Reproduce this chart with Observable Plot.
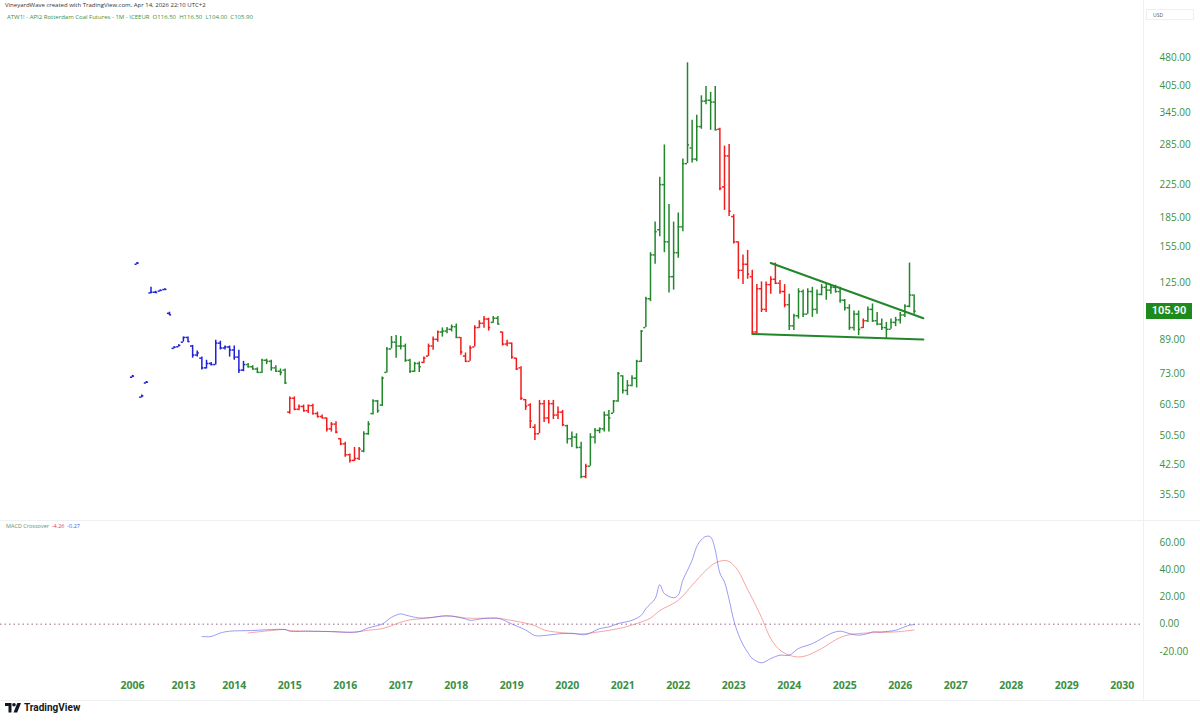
<!DOCTYPE html>
<html><head><meta charset="utf-8">
<script src="https://cdn.jsdelivr.net/npm/d3@7"></script>
<script src="https://cdn.jsdelivr.net/npm/@observablehq/plot@0.6"></script>
<style>
html,body{margin:0;padding:0;background:#fff}
body{width:1200px;height:723px;position:relative;overflow:hidden;font-family:"Open Sans",Roboto,sans-serif}
.abs{position:absolute}
#hdr1{left:5px;top:1px;font-size:6px;color:#333;white-space:nowrap}
#hdr2{left:7px;top:13px;font-size:6px;color:#3b8f41;white-space:nowrap}
#usd{left:1146px;top:9px;width:48px;height:11px;border:1px solid #eceff3;font-size:5px;color:#555;box-sizing:border-box;padding:2px 0 0 6px}
#macdHdr{left:6px;top:522px;font-size:5.5px;color:#6a8f6a;white-space:nowrap}
#last{left:1146px;width:46px;height:16px;background:#1e8a1e;color:#fff;font-size:11px;font-weight:600;line-height:16px;text-align:center;font-family:Roboto,sans-serif}
.vline{width:1px;background:#eef0f3}
.hline{height:1px;background:#eef0f3}
#logo{left:5px;top:702px;font-size:10px;font-weight:700;color:#131722;display:flex;align-items:center;gap:3px;font-family:Roboto,sans-serif}
</style></head>
<body>
<div id="hdr1" class="abs">VineyardWave created with TradingView.com, Apr 14, 2026 22:10 UTC+2</div>
<div id="hdr2" class="abs">ATW1! - API2 Rotterdam Coal Futures - 1M - ICEEUR&nbsp; O116.50&nbsp; H116.50&nbsp; L104.00&nbsp; C105.90</div>
<div id="price" class="abs" style="left:0;top:0"></div>
<div id="macd" class="abs" style="left:0;top:520px"></div>
<div class="abs hline" style="left:0;top:520px;width:1200px"></div>
<div class="abs vline" style="left:1143px;top:0;height:700px"></div>
<div class="abs hline" style="left:0;top:700px;width:1200px"></div>
<div id="usd" class="abs">USD</div>
<div id="macdHdr" class="abs">MACD Crossover&nbsp; <span style="color:#f23645">-4.26</span>&nbsp; <span style="color:#2962ff">-0.27</span></div>
<div id="logo" class="abs"><svg width="16" height="10" viewBox="0 0 16 10"><path d="M0 0h6.5v9.5H3.5V3H0z" fill="#131722"/><circle cx="9" cy="1.8" r="1.8" fill="#131722"/><path d="M8.5 9.5L12.3 0H16l-3.8 9.5z" fill="#131722"/></svg><span>TradingView</span></div>
<script>
// ---------- DATA ----------
// early sparse bars (before continuous monthly history)
const earlyMonths = ["2006-06","2008-03","2009-02","2009-08","2010-12","2011-03","2011-06","2011-09","2012-04","2012-10","2012-12"];
// continuous monthly bars Feb 2013 .. Apr 2026 are appended in order
const open = [
 71.4,140.0,63.4,69.0,118.0,118.5,119.3,120.4,104.5,84.8,85.6,
 88.0,90.5,86.0,81.5,80.0,75.5,77.5,77.0,87.5,85.0,85.5,
 84.0,80.5,74.5,77.0,76.0,75.0,73.5,79.0,78.5,75.5,74.0,74.5,
 58.0,63.0,59.0,60.0,58.5,60.3,57.5,56.5,56.0,52.5,54.0,49.5,
 48.0,45.0,43.5,44.0,46.0,51.0,57.5,62.0,60.5,73.5,84.5,88.0,
 86.0,86.0,79.0,74.0,77.5,78.0,81.0,86.0,89.5,93.5,94.0,95.0,
 96.5,90.5,81.0,78.5,85.5,96.0,98.5,101.0,99.0,101.5,93.5,87.0,
 87.5,80.0,75.5,62.5,60.5,53.0,51.0,61.0,56.0,61.0,57.0,58.0,
 53.5,49.5,50.0,47.0,39.5,42.0,50.0,52.0,52.5,57.0,57.6,62.0,
 72.0,66.0,68.0,71.0,78.5,96.0,114,148,172,225,160,130,
 150,175,255,280,262,318,370,372,368,313,222,267,
 186,160,135,140,130,93.5,121,107,124,128,125,119,
 110,97,103,119,104,119,107,117,122,120,122,119,
 113,108,96,104,96,100,107,100,98,96,95,99,
 100.5,103.5,109,116.5];
const high = [
 72.2,141.5,64.2,69.6,122.0,119.2,120.0,121.0,105.2,85.6,86.6,
 90.7,90.7,86.3,83.5,80.5,79.0,78.0,89.0,88.5,86.0,86.0,
 86.0,83.8,78.5,77.5,76.5,75.5,79.5,79.5,79.0,76.5,75.0,75.0,
 63.5,63.5,60.5,60.5,60.5,60.8,58.0,57.0,56.0,54.5,54.8,49.5,
 48.5,45.2,47.0,47.0,51.6,54.8,62.4,62.2,71.5,85.3,91.0,91.5,
 91.0,87.0,79.5,78.0,78.2,80.5,87.0,90.7,94.0,95.8,96.0,97.5,
 98.0,90.5,82.5,86.0,97.0,100.0,102.5,101.5,102.5,102.5,93.5,89.0,
 87.5,80.0,76.0,62.5,61.0,53.8,62.2,62.2,62.2,62.2,59.8,58.6,
 53.6,51.5,51.0,48.5,42.5,51.0,52.6,52.8,58.0,58.6,62.2,73.4,
 72.0,70.0,72.0,79.0,94.4,115.0,150,180,235,285,200,180,
 190,262,465,330,340,382,404,390,404,315,283,286,
 188,160,148,152,135,124,126,126,130,141,127,124,
 117,104,121,120,121,122,120,124,124,123.5,123.5,122,
 113.5,110,106,106,101,108.5,110.5,105,101,99,101,102,
 105,110,141,116.5];
const low = [
 71.2,139.8,63.2,68.8,117.5,117.8,119.0,120.0,103.2,84.6,85.5,
 88.0,88.0,80.0,80.5,74.5,75.0,76.5,76.8,84.0,84.0,80.5,
 79.0,73.0,73.8,75.5,74.5,73.0,73.0,77.0,74.0,73.5,72.0,68.5,
 57.3,58.5,58.5,58.0,57.5,57.0,56.0,55.8,51.5,51.5,51.0,47.5,
 44.3,42.8,43.2,43.5,45.5,50.5,57.0,57.6,60.0,73.2,84.5,80.0,
 84.0,78.0,73.0,73.5,73.5,77.5,80.8,83.8,88.0,90.7,92.5,93.5,
 90.0,81.4,78.0,78.5,85.5,95.6,95.6,94.0,98.5,97.6,86.0,85.6,
 79.5,74.4,62.2,58.6,52.6,49.0,51.0,54.5,54.0,55.5,55.5,53.2,
 48.0,47.0,46.6,39.0,39.0,42.0,48.0,51.0,51.5,51.5,57.6,61.5,
 64.6,64.0,67.5,67.0,78.0,96.0,112,140,165,150,118,120,
 145,170,255,256,258,313,362,311,310,217,193,186,
 158,128,124,128,92.5,92.5,105,105,117,124,117,108,
 94.4,94.4,101,102,104,102,104,116,113,117,118,111,
 106,94.4,94,91.5,95.5,99,99,97,94.4,89.8,95,96.5,
 98,102,108,104];
const close = [
 71.9,141.0,63.9,69.3,118.5,118.3,119.8,120.5,103.6,85.4,86.3,
 90.5,88.3,81.5,82.5,75.5,77.5,77.0,87.5,85.0,85.5,84.0,
 80.5,74.5,77.0,76.0,75.0,73.5,79.0,78.5,75.5,74.0,73.5,69.0,
 63.0,59.0,60.0,58.5,60.3,57.5,56.5,56.0,52.5,54.0,51.5,48.0,
 45.0,43.5,44.0,46.5,51.0,54.0,62.0,58.5,71.0,84.5,88.0,86.0,
 86.0,79.0,74.0,77.5,76.0,80.0,86.0,89.5,93.5,94.0,95.0,96.5,
 90.5,83.0,78.5,85.0,96.0,98.5,101.0,96.0,101.5,98.0,87.0,87.5,
 80.5,75.0,63.0,60.0,55.0,51.0,61.0,56.0,61.0,57.0,58.0,53.8,
 49.5,50.0,47.0,39.5,42.0,50.0,52.0,52.5,57.0,56.0,62.0,73.0,
 66.0,68.0,71.0,78.5,94.0,114.0,148,170,225,160,130,150,
 175,255,285,262,318,370,372,368,312,220,267,192,
 160,135,140,132,93.5,121,107,124,128,125,119,110,
 97,103,119,104,119,107,117,122,120,122,119,113,
 108,96,104,95,100,107,100,98,96,95,99,100.5,
 103.5,109,116.5,105.9];
// bar colouring state: b = early, g = up-trend, r = down-trend
const barState = ("bbbbbbbbbbbbbbbbbbbbbbbbb" + "ggggggggg" + "rrrrrrrrrrrrrrrr" + "ggggggggggggg" +
  "rrrr" + "gggg" + "rrrrrrr" + "gg" + "rrrrrrrrrrrrrr" + "gggg" + "r" +
  "gggggggggggggggggggggggggggg" + "rrrrrrrrrrrrrrr" + "gggggggggggggggg" + "r" + "ggggggggggg").split("");

// trendlines drawn on the chart (month, price)
const upperTrendMonths = ["2023-09","2026-06"], upperTrendValues = [141, 101.5];
const lowerTrendMonths = ["2023-05","2026-06"], lowerTrendValues = [92.4, 89.4];

// MACD line (blue) and signal (red)
const macdMonths = ["2013-06","2013-08","2013-10","2013-12","2014-05","2014-09","2014-12","2015-01","2015-05","2015-10",
 "2016-02","2016-04","2016-06","2016-09","2016-11","2017-01","2017-02","2017-05","2017-08","2017-10","2017-12",
 "2018-03","2018-04","2018-07","2018-10","2018-11","2019-01","2019-04","2019-06","2019-08","2019-11",
 "2020-02","2020-05","2020-08","2020-10","2020-12","2021-03","2021-05","2021-06","2021-08","2021-09","2021-10","2021-12",
 "2022-01","2022-02","2022-03","2022-04","2022-05","2022-06","2022-07","2022-08","2022-09","2022-10","2022-11","2022-12",
 "2023-01","2023-02","2023-03","2023-04","2023-05","2023-07","2023-09","2023-11",
 "2024-01","2024-03","2024-06","2024-08","2024-10","2024-12","2025-02","2025-04","2025-06","2025-07","2025-09","2025-12",
 "2026-01","2026-03","2026-04"];
const macdValues = [-9.0,-9.0,-6.4,-5.1,-4.6,-3.9,-3.9,-5.1,-5.1,-5.4,
 -5.9,-5.4,-2.7,0.2,5.1,7.6,6.8,4.6,5.1,6.1,5.9,
 3.9,2.9,4.2,4.4,3.4,0.2,-4.2,-8.3,-8.3,-7.1,
 -6.6,-7.6,-3.2,-2.0,0.5,2.9,6.6,11.5,18.8,29,22.5,19.5,
 21.5,32.5,39.6,47,57,62,64.5,64,54.5,37.5,31,18,
 3,-7.5,-15,-20.5,-25,-28.3,-25.2,-22.7,
 -22.7,-17.8,-14.2,-10.5,-6.8,-5.1,-6.8,-8,-6.8,-5.6,-5.6,-4.4,
 -3.2,-0.7,-0.27];
const signalMonths = ["2014-04","2014-09","2014-12","2015-01","2015-05","2015-10","2016-02","2016-04","2016-06","2016-09","2016-11",
 "2017-01","2017-03","2017-05","2017-08","2017-10","2017-12","2018-03","2018-06","2018-10","2018-12",
 "2019-03","2019-06","2019-08","2019-11","2020-04","2020-07","2020-10","2021-01","2021-04","2021-07","2021-09",
 "2022-01","2022-04","2022-07","2022-09","2022-11","2022-12","2023-01","2023-02","2023-04","2023-05","2023-07","2023-09","2023-11",
 "2024-01","2024-03","2024-05","2024-08","2024-11","2025-01","2025-04","2025-08","2025-12","2026-04"];
const signalValues = [-6.4,-4.6,-3.9,-4.6,-5.1,-5.4,-5.9,-5.4,-4.4,-3.2,-1.0,
 1.5,3.2,3.9,5.1,5.9,6.1,4.6,4.4,4.4,3.4,
 1.5,-1.0,-4.2,-5.9,-7.1,-6.0,-4.5,-2.5,0.5,4.5,10,
 17.6,28.6,39.6,45,46.8,46,43.3,39,25.5,19,5,-10.5,-19,
 -22.7,-24,-22.7,-17.8,-11.5,-8.5,-6.8,-6.1,-5.6,-4.26];

const priceTicks = [35.5,42.5,50.5,60.5,73,89,125,155,185,225,285,345,405,480];
const macdTicks = [-20,0,20,40,60];
const yearLabels = ["2006","2013","2014","2015","2016","2017","2018","2019","2020","2021","2022","2023","2024","2025","2026","2027","2028","2029","2030"];

// ---------- BUILD ----------
const fmtM = d3.utcFormat("%Y-%m");
const months = earlyMonths.concat(d3.utcMonth.range(new Date(Date.UTC(2013,1,1)), new Date(Date.UTC(2026,4,1))).map(fmtM));
const idx = new Map(months.map((m,i)=>[m,i]));
const lastI = months.length-1;
const [ly,lm] = months[lastI].split("-").map(Number);
function posOf(m){ if(idx.has(m)) return idx.get(m); const [y,mo]=m.split("-").map(Number); return lastI + (y-ly)*12 + (mo-lm); }

const bars = months.map((m,i)=>({i, m, o:open[i], h:high[i], l:low[i], c:close[i], s:barState[i]}));
const upper = upperTrendMonths.map((m,k)=>({x:posOf(m), v:upperTrendValues[k]}));
const lower = lowerTrendMonths.map((m,k)=>({x:posOf(m), v:lowerTrendValues[k]}));
const macd = macdMonths.map((m,k)=>({x:posOf(m), v:macdValues[k]}));
const signal = signalMonths.map((m,k)=>({x:posOf(m), v:signalValues[k]}));
const yearPos = yearLabels.map(y => { const f = months.findIndex(m=>m.startsWith(y)); return f >= 0 ? f : posOf(y+"-01"); });
const yearByPos = new Map(yearPos.map((p,k)=>[p,yearLabels[k]]));

const GREEN="#21872a", RED="#f21c1c", BLUE="#1f1fd6", AXIS="#3b8f41";
const xOpts = {type:"linear", domain:[0,214], range:[132,1121.75]};
const W = 0.45;

const pricePlot = Plot.plot({
  width:1200, height:520, marginLeft:0, marginRight:57, marginTop:0, marginBottom:0,
  style:{fontFamily:"'Open Sans',Roboto,sans-serif", background:"transparent"},
  x:{...xOpts, axis:null},
  y:{type:"log", domain:[35.5,480], range:[494,57], axis:null},
  color:{domain:["b","g","r"], range:[BLUE,GREEN,RED]},
  marks:[
    Plot.ruleX(bars, {x:"i", y1:"l", y2:"h", stroke:"s", strokeWidth:1.5}),
    Plot.ruleY(bars, {x1:d=>d.i-W, x2:"i", y:"o", stroke:"s", strokeWidth:1.5}),
    Plot.ruleY(bars, {x1:"i", x2:d=>d.i+W, y:"c", stroke:"s", strokeWidth:1.5}),
    Plot.line(upper, {x:"x", y:"v", stroke:GREEN, strokeWidth:2}),
    Plot.line(lower, {x:"x", y:"v", stroke:GREEN, strokeWidth:2}),
    Plot.axisY({anchor:"right", ticks:priceTicks, tickFormat:d=>d.toFixed(2), tickSize:0, tickPadding:16, fontSize:10, color:AXIS, label:null})
  ]
});
document.getElementById("price").appendChild(pricePlot);

const macdPlot = Plot.plot({
  width:1200, height:180, marginLeft:0, marginRight:57, marginTop:0, marginBottom:26,
  style:{fontFamily:"'Open Sans',Roboto,sans-serif", background:"transparent"},
  x:{...xOpts, axis:null},
  y:{domain:[-20,60], range:[131,22], axis:null},
  marks:[
    Plot.ruleY([0], {stroke:"#b99aae", strokeWidth:1.3, strokeDasharray:"1.5,3"}),
    Plot.line(signal, {x:"x", y:"v", stroke:"#f06a6a", strokeOpacity:0.6, strokeWidth:1, curve:"catmull-rom"}),
    Plot.line(macd, {x:"x", y:"v", stroke:"#5a5aee", strokeOpacity:0.6, strokeWidth:1, curve:"catmull-rom"}),
    Plot.axisY({anchor:"right", ticks:macdTicks, tickFormat:d=>d.toFixed(2), tickSize:0, tickPadding:16, fontSize:10, color:AXIS, label:null}),
    Plot.axisX({anchor:"bottom", ticks:yearPos, tickFormat:p=>yearByPos.get(p), tickSize:0, tickPadding:7, fontSize:10.5, fontWeight:"bold", color:AXIS, label:null})
  ]
});
document.getElementById("macd").appendChild(macdPlot);

// last-price badge placed through the price scale
const yLast = pricePlot.scale("y").apply(close[lastI]);
const badge = document.createElement("div");
badge.id = "last"; badge.className = "abs";
badge.style.top = (yLast - 8) + "px";
badge.textContent = close[lastI].toFixed(2);
document.body.appendChild(badge);
</script>
</body></html>
